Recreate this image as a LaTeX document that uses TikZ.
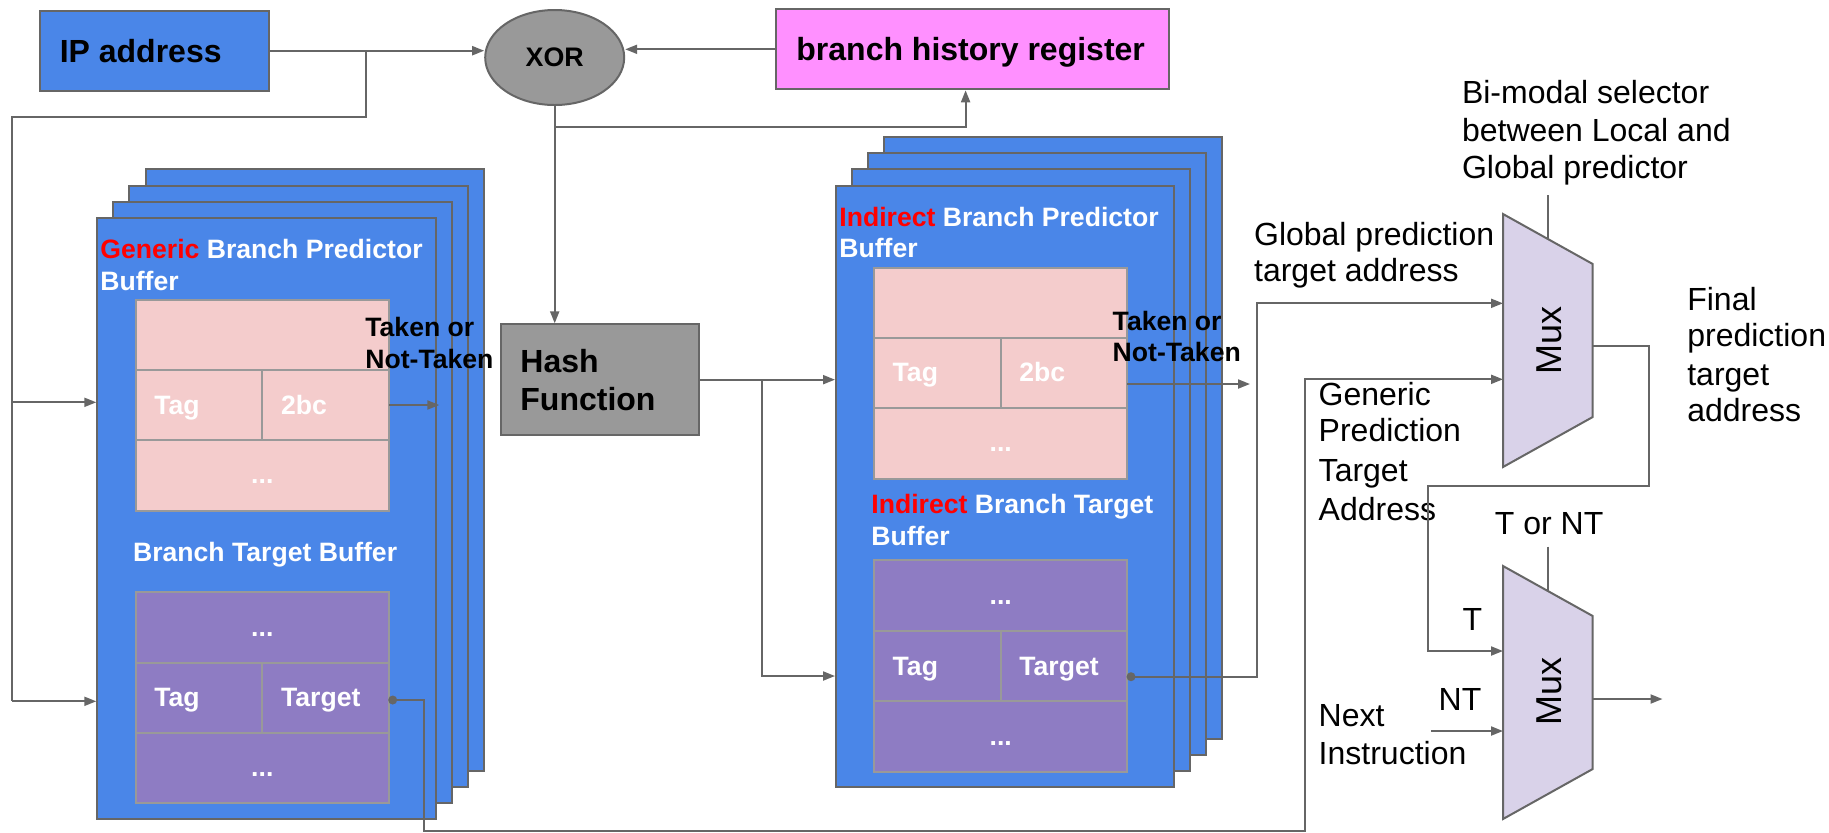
\documentclass[tikz,border=0pt]{standalone}
\usepackage{fontspec}
\setmainfont{Liberation Sans}
\usetikzlibrary{arrows.meta,fit,shapes.geometric,calc}
\definecolor{gblue}{HTML}{4A86E8}
\definecolor{pinktab}{HTML}{F4CCCC}
\definecolor{purptab}{HTML}{8E7CC3}
\definecolor{muxfill}{HTML}{D9D2E9}
\definecolor{grayfill}{HTML}{999999}
\definecolor{edge}{HTML}{666666}
\definecolor{tabedge}{HTML}{999999}
\definecolor{bhrpink}{HTML}{FF90FF}
\definecolor{redtxt}{HTML}{FF0000}
\begin{document}
\begin{tikzpicture}[x=0.5pt,y=-0.5pt,
  conn/.style={draw=edge, line width=1pt},
  arr/.style={conn, -{Triangle[length=6pt,width=4.5pt]}},
  sheet/.style={draw=edge, fill=gblue, line width=1pt, inner sep=0pt},
  boxg/.style={draw=edge, line width=1pt, inner sep=0pt},
  ptab/.style={draw=tabedge, fill=pinktab, line width=1pt},
  vtab/.style={draw=tabedge, fill=purptab, line width=1pt},
  tline/.style={draw=tabedge, line width=1pt},
  muxshape/.style={draw=edge, fill=muxfill, line width=1pt, line join=miter},
  lbl/.style={inner sep=0pt, anchor=base west},
  big/.style={lbl, font=\bfseries\fontsize{16}{19}\selectfont},
  sml/.style={lbl, font=\bfseries\fontsize{13.3}{16}\selectfont, text=white},
  blk/.style={lbl, font=\bfseries\fontsize{13.3}{16}\selectfont},
  reg/.style={lbl, font=\fontsize{16}{19}\selectfont},
  dots/.style={inner sep=0pt, anchor=base, font=\bfseries\fontsize{13.3}{16}\selectfont, text=white},
  muxtxt/.style={inner sep=0pt, rotate=90, font=\fontsize{18}{21}\selectfont},
  dotnode/.style={circle, fill=edge, inner sep=0pt, minimum size=4.5pt},
]
\useasboundingbox[fill=white] (0,0) rectangle (1829,832);

% ---------- top row ----------
\node[boxg, fill=gblue, fit={(40.2,10.7)(268.8,90.7)}] (ip) {};
\node[big] (iptxt) at (59.4,62.7) {IP address};
\node[ellipse, draw=edge, fill=grayfill, line width=1pt, minimum width=69.5pt, minimum height=47.5pt, inner sep=0pt, font=\bfseries\fontsize{13.4}{16}\selectfont] (xor) at (554.7,57.5) {XOR};
\node[boxg, fill=bhrpink, fit={(776.3,9.3)(1169.2,89.3)}] (bhr) {};
\node[big] (bhrtxt) at (796,60.7) {branch history register};
\node[boxg, fill=grayfill, fit={(500.7,324.3)(699,435)}] (hash) {};
\node[big] (h1) at (520,372.7) {Hash};
\node[big] (h2) at (520,410) {Function};

% ---------- generic stack ----------
\node[sheet, fit={(145.7,169.3)(484,771)}] (g4) {};
\node[sheet, fit={(129.3,185.7)(468,787.3)}] (g3) {};
\node[sheet, fit={(113.3,201.7)(452,803.3)}] (g2) {};
\node[sheet, fit={(97.3,217.7)(436,819)}] (g1) {};
\filldraw[ptab] (135.7,300) rectangle (389,510.7);
\draw[tline] (135.7,370) -- (389,370) (135.7,440) -- (389,440) (262.3,370) -- (262.3,440);
\filldraw[vtab] (135.7,592.3) rectangle (389,803.3);
\draw[tline] (135.7,662.7) -- (389,662.7) (135.7,732.7) -- (389,732.7) (262.3,662.7) -- (262.3,732.7);
\node[sml] (gt1) at (100,258) {\textcolor{redtxt}{Generic} Branch Predictor};
\node[sml] (gt2) at (100,290) {Buffer};
\node[sml] (gtag1) at (154,414) {Tag};
\node[sml] (g2bc) at (280.7,414) {2bc};
\node[dots] (gd1) at (262.3,483) {...};
\node[blk] (gtk1) at (365,336.7) {Taken or};
\node[blk] (gtk2) at (365,368.3) {Not-Taken};
\node[sml] (gbtb) at (132.7,561.7) {Branch Target Buffer};
\node[dots] (gd2) at (262.3,636) {...};
\node[sml] (gtag2) at (154,706) {Tag};
\node[sml] (gtgt) at (280.7,706) {Target};
\node[dots] (gd3) at (262.3,776.7) {...};

% ---------- indirect stack ----------
\node[sheet, fit={(884,137.3)(1222,739)}] (i4) {};
\node[sheet, fit={(868,153.3)(1206,755)}] (i3) {};
\node[sheet, fit={(852,169.3)(1190,771)}] (i2) {};
\node[sheet, fit={(836,185.7)(1174.3,786.7)}] (i1) {};
\filldraw[ptab] (874,267.7) rectangle (1127.3,479);
\draw[tline] (874,338.3) -- (1127.3,338.3) (874,408.3) -- (1127.3,408.3) (1000.7,338.3) -- (1000.7,408.3);
\filldraw[vtab] (874,560) rectangle (1127.3,771.7);
\draw[tline] (874,630.7) -- (1127.3,630.7) (874,700.7) -- (1127.3,700.7) (1000.7,630.7) -- (1000.7,700.7);
\node[sml] (it1) at (839,226) {\textcolor{redtxt}{Indirect} Branch Predictor};
\node[sml] (it2) at (839,257.3) {Buffer};
\node[sml] (itag1) at (892.3,381.7) {Tag};
\node[sml] (i2bc) at (1019,381.7) {2bc};
\node[dots] (id1) at (1000.7,451.7) {...};
\node[blk] (itk1) at (1112.3,330) {Taken or};
\node[blk] (itk2) at (1112.3,361.7) {Not-Taken};
\node[sml] (ib1) at (871,513.3) {\textcolor{redtxt}{Indirect} Branch Target};
\node[sml] (ib2) at (871,545) {Buffer};
\node[dots] (id2) at (1000.7,604) {...};
\node[sml] (itag2) at (892.3,675) {Tag};
\node[sml] (itgt) at (1019,675) {Target};
\node[dots] (id3) at (1000.7,745) {...};

% ---------- muxes ----------
\draw[muxshape] (1503,214) coordinate (m1tl) -- (1592.7,264) -- (1592.7,417) -- (1503,467) -- cycle;
\node[muxtxt] (mux1) at (1549,340) {Mux};
\draw[muxshape] (1503,566) coordinate (m2tl) -- (1592.7,616) -- (1592.7,769) -- (1503,819) -- cycle;
\node[muxtxt] (mux2) at (1549,691.7) {Mux};

% ---------- right labels ----------
\node[reg] (sel1a) at (1461.6,103.3) {Bi-modal selector};
\node[reg] (sel1b) at (1461.6,141.7) {between Local and};
\node[reg] (sel1c) at (1461.6,178.3) {Global predictor};
\node[reg] (gpa) at (1253.7,245) {Global prediction};
\node[reg] (gpb) at (1253.7,281.7) {target address};
\node[reg] (fa) at (1686.9,310) {Final};
\node[reg] (fb) at (1686.9,346.7) {prediction};
\node[reg] (fc) at (1686.9,385) {target};
\node[reg] (fd) at (1686.9,421.7) {address};
\node[reg] (gna) at (1318.3,405) {Generic};
\node[reg] (gnb) at (1318.3,441.7) {Prediction};
\node[reg] (gnc) at (1318.3,481.7) {Target};
\node[reg] (gnd) at (1318.3,520) {Address};
\node[reg] (tnt) at (1494.5,534.3) {T or NT};
\node[reg] (tl) at (1462.3,630) {T};
\node[reg] (ntl) at (1438.3,710) {NT};
\node[reg] (nxa) at (1318.3,726) {Next};
\node[reg] (nxb) at (1318.3,764) {Instruction};

% ---------- coordinates ----------
\coordinate (s1) at (366,50.7);
\coordinate (lpA) at (366,116.7);
\coordinate (lpB) at (12,116.7);
\coordinate (lpM) at (12,402.3);
\coordinate (lpE) at (12,701.3);
\coordinate (xs) at (554.7,126.7);
\coordinate (hs) at (762.3,379.65);
\coordinate (hd) at (762.3,676);
\coordinate (gpt) at (389,405);
\coordinate (gtnt) at (439.3,405);
\coordinate (ipt) at (1127.3,384);
\coordinate (itnt) at (1250,384);
\coordinate (iv) at (1256.6,676.7);
\coordinate (m1a) at (1503,303.3);
\coordinate (m1b) at (1503,379.3);
\coordinate (ga) at (424.3,700);
\coordinate (gb) at (424.3,830.7);
\coordinate (gc) at (1305,830.7);
\coordinate (m1o) at (1592.7,346);
\coordinate (mo1) at (1648.8,346);
\coordinate (mo2) at (1648.8,485.7);
\coordinate (mo3) at (1428.4,485.7);
\coordinate (m2a) at (1503,651);
\coordinate (nts) at (1431,731);
\coordinate (m2b) at (1503,731);
\coordinate (m2o) at (1592.7,699);
\coordinate (outend) at (1662.5,699);
\coordinate (selA) at (1548.4,195);
\coordinate (selAe) at (1548.4,239.3);
\coordinate (selB) at (1548.4,546.7);
\coordinate (selBe) at (1548.4,591.3);

\node[dotnode] (gdot) at (392.7,700) {};
\node[dotnode] (idot) at (1131,676.7) {};

% ---------- connectors ----------
\draw[arr] (ip.east) -- (ip.east -| xor.west);
\draw[conn] (s1) -- (lpA) -- (lpB) -- (lpE);
\draw[arr] (lpM) -- (lpM -| g1.west);
\draw[arr] (lpE) -- (lpE -| g1.west);
\draw[arr] (bhr.west) -- (bhr.west -| xor.east);
\draw[arr] (xor.south) -- (xor.south |- hash.north);
\draw[arr] (xs) -| ($(bhr.south)+(-7.15,0)$);
\draw[arr] (hash.east) -- (hash.east -| i1.west);
\draw[arr] (hs) -- (hd) -- (hd -| i1.west);
\draw[arr] (gpt) -- (gtnt);
\draw[arr] (ipt) -- (itnt);
\draw[arr] (idot.center) -- (iv) |- (m1a);
\draw[arr] (gdot.center) -- (ga) -- (gb) -- (gc) |- (m1b);
\draw[arr] (m1o) -- (mo1) -- (mo2) -- (mo3) |- (m2a);
\draw[arr] (nts) -- (m2b);
\draw[arr] (m2o) -- (outend);
\draw[conn] (selA) -- (selAe);
\draw[conn] (selB) -- (selBe);
\end{tikzpicture}
\end{document}
